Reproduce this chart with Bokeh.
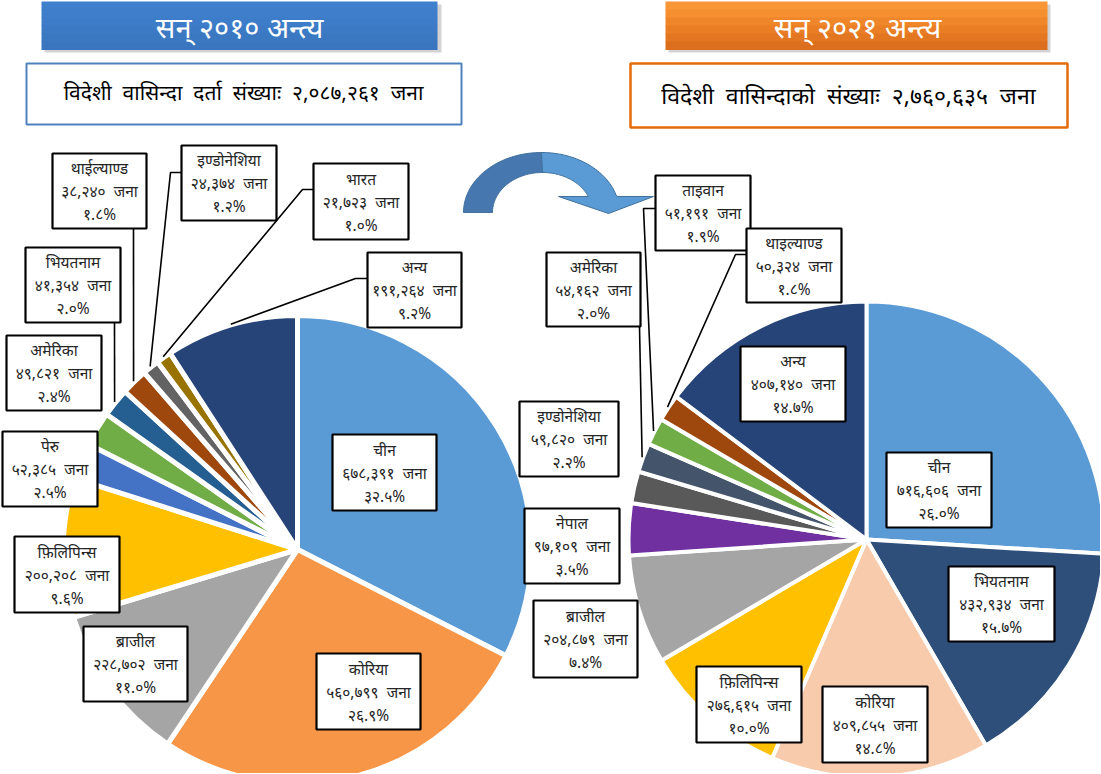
import numpy as np
from bokeh.plotting import figure
from bokeh.models import Range1d, ColumnDataSource
from bokeh.embed import file_html
from bokeh.resources import INLINE
from bokeh.core.properties import value

# ---------------- data ----------------
title_2010 = "सन् २०१० अन्त्य"
title_2021 = "सन् २०२१ अन्त्य"
subtitle_2010 = "विदेशी वासिन्दा दर्ता संख्याः २,०८७,२६१ जना"
subtitle_2021 = "विदेशी वासिन्दाको संख्याः २,७६०,६३५ जना"

countries_2010 = ["चीन", "कोरिया", "ब्राजील", "फ़िलिपिन्स", "पेरु", "अमेरिका",
                  "भियतनाम", "थाईल्याण्ड", "इण्डोनेशिया", "भारत", "अन्य"]
residents_2010 = [678391, 560799, 228702, 200208, 52385, 49821,
                  41354, 38240, 24374, 21723, 191264]
colors_2010 = ["#5B9BD5", "#F79646", "#A5A5A5", "#FFC000", "#4472C4", "#70AD47",
               "#255E91", "#9E480E", "#636363", "#997300", "#264478"]

countries_2021 = ["चीन", "भियतनाम", "कोरिया", "फ़िलिपिन्स", "ब्राजील", "नेपाल",
                  "इण्डोनेशिया", "अमेरिका", "ताइवान", "थाइल्याण्ड", "अन्य"]
residents_2021 = [716606, 432934, 409855, 276615, 204879, 97109,
                  59820, 54162, 51191, 50324, 407140]
colors_2021 = ["#5B9BD5", "#2D4F7A", "#F8CBAD", "#FFC000", "#A5A5A5", "#7030A0",
               "#595959", "#44546A", "#70AD47", "#9E480E", "#264478"]

# ---------------- layout (screen pixel coords of the page) ----------------
PIE1 = dict(cx=297, cy=549, r=234, gap=5)
PIE2 = dict(cx=866, cy=539, r=238, gap=4)

# label boxes: (left, top, right, bottom); leader: list of elbow points or None
boxes_2010 = {
    "चीन": ((332, 434, 436, 510), None),
    "कोरिया": ((316, 653, 420, 729), None),
    "ब्राजील": ((83, 626, 187, 701), None),
    "फ़िलिपिन्स": ((14, 536, 119, 612), None),
    "पेरु": ((2, 431, 97, 506), None),
    "अमेरिका": ((6, 335, 101, 410), None),
    "भियतनाम": ((25, 247, 120, 322), [(114, 322)]),
    "थाईल्याण्ड": ((52, 153, 146, 228), [(133, 228)]),
    "इण्डोनेशिया": ((181, 145, 276, 220), [(181, 172), (170, 172)]),
    "भारत": ((313, 163, 408, 239), [(313, 189), (302, 189)]),
    "अन्य": ((367, 252, 461, 327), [(367, 278), (355, 278)]),
}
boxes_2021 = {
    "चीन": ((886, 452, 991, 527), None),
    "भियतनाम": ((948, 566, 1054, 641), None),
    "कोरिया": ((822, 686, 927, 762), None),
    "फ़िलिपिन्स": ((696, 666, 801, 742), None),
    "ब्राजील": ((533, 600, 637, 677), None),
    "नेपाल": ((524, 508, 619, 583), None),
    "इण्डोनेशिया": ((519, 401, 618, 476), None),
    "अमेरिका": ((546, 252, 640, 326), [(639, 326)]),
    "ताइवान": ((655, 175, 750, 250), [(655, 208), (643, 208)]),
    "थाइल्याण्ड": ((746, 228, 841, 302), [(746, 254), (735, 254)]),
    "अन्य": ((740, 346, 845, 421), None),
}

FONT = "Noto Sans"
TXT = "#262626"
W, H = 1100, 773
SP = "\u00a0\u00a0"


def Y(ys):
    return H - ys


DEV = str.maketrans("0123456789", "०१२३४५६७८९")


def dev(s):
    return s.translate(DEV)


p = figure(width=W, height=H, x_range=Range1d(0, W), y_range=Range1d(0, H),
           output_backend="svg", toolbar_location=None, min_border=0)
p.axis.visible = False
p.grid.visible = False
p.outline_line_color = None
p.background_fill_color = "white"
p.border_fill_color = "white"

# ---------------- titles ----------------
p.quad(left=[44, 668], right=[441, 1050], top=[Y(4), Y(4)], bottom=[Y(52), Y(52)],
       fill_color="#C8C8C8", line_color=None, fill_alpha=0.8)
blue_bands = ["#3F80CC", "#3E7ECA", "#3D7CC8", "#3C7AC5", "#3B78C2", "#3A76BF"]
orange_bands = ["#F99636", "#F68F30", "#F0862A", "#EA7E25", "#E37621", "#DC6F1D"]
n = len(blue_bands)
top, bot = 1, 49
for i in range(n):
    t = top + (bot - top) * i / n
    b = top + (bot - top) * (i + 1) / n + 0.6
    p.quad(left=[41], right=[437], top=[Y(t)], bottom=[Y(b)], fill_color=blue_bands[i], line_color=None)
    p.quad(left=[665], right=[1047], top=[Y(t)], bottom=[Y(b)], fill_color=orange_bands[i], line_color=None)
p.text(x=[239, 857], y=[Y(26), Y(26)], text=[title_2010, title_2021], text_color="white",
       text_font=value(FONT), text_font_size="29px", text_align="center", text_baseline="middle")

# subtitle boxes
p.quad(left=[26], right=[461], top=[Y(63)], bottom=[Y(124)], fill_color="white",
       line_color="#4F81BD", line_width=2)
p.quad(left=[630], right=[1067], top=[Y(63)], bottom=[Y(127)], fill_color="white",
       line_color="#E46C0A", line_width=2.5)
p.text(x=[243], y=[Y(91)], text=[subtitle_2010.replace(" ", "\u00a0\u00a0")], text_color="black",
       text_font=value(FONT), text_font_size="21px", text_align="center", text_baseline="middle")
p.text(x=[848], y=[Y(94)], text=[subtitle_2021.replace(" ", "\u00a0\u00a0")], text_color="black",
       text_font=value(FONT), text_font_size="23px", text_align="center", text_baseline="middle")

# ---------------- arrow ----------------
def ell(cx, cy, rx, ry, a0, a1, k=40):
    th = np.radians(np.linspace(a0, a1, k))
    return list(cx + rx * np.cos(th)), list(cy - ry * np.sin(th))

ox, oy = ell(541, 212, 78, 60, 180, 90)
ix, iy = ell(542, 212, 50, 40, 90, 180)
p.patch(ox + ix, [Y(v) for v in oy + iy], fill_color="#4677AF", line_color="#41719C", line_width=1)
ox2, oy2 = ell(541, 212, 78, 60, 90, 15.5)
ix2, iy2 = ell(542, 212, 50, 40, 23.6, 90)
ax = ox2 + [653, 608, 558] + ix2
ay = oy2 + [196, 213, 196] + iy2
p.patch(ax, [Y(v) for v in ay], fill_color="#5B9BD5", line_color="#41719C", line_width=1)

# ---------------- pies ----------------
def draw_pie(pie, names, vals, colors, boxes):
    total = float(sum(vals))
    frac = np.array(vals) / total
    cum = np.concatenate([[0], np.cumsum(frac)])
    start = np.pi / 2 - 2 * np.pi * cum[:-1]
    end = np.pi / 2 - 2 * np.pi * cum[1:]
    src = ColumnDataSource(dict(x=[pie["cx"]] * len(vals), y=[Y(pie["cy"])] * len(vals),
                                start=list(start), end=list(end), color=colors))
    p.wedge(x="x", y="y", radius=pie["r"], start_angle="start", end_angle="end",
            direction="clock", fill_color="color", line_color="white",
            line_width=pie["gap"], source=src)
    mid = (start + end) / 2
    lx, ly = [], []
    qs = dict(l=[], r=[], t=[], b=[])
    tx, ty, tt = [], [], []
    for i, name in enumerate(names):
        (l, t, r, b), lead = boxes[name]
        qs["l"].append(l); qs["r"].append(r); qs["t"].append(Y(t)); qs["b"].append(Y(b))
        xc = (l + r) / 2
        yc = (t + b) / 2
        lines = [name, dev(f"{vals[i]:,}") + SP + "जना", dev(f"{100 * vals[i] / total:.1f}") + "%"]
        for j, s in enumerate(lines):
            tx.append(xc); ty.append(Y(yc + (j - 1) * 23)); tt.append(s)
        if lead:
            ex = pie["cx"] + (pie["r"] + 1) * np.cos(mid[i])
            ey = pie["cy"] - (pie["r"] + 1) * np.sin(mid[i])
            lx.append([pt[0] for pt in lead] + [ex])
            ly.append([Y(pt[1]) for pt in lead] + [Y(ey)])
    if lx:
        p.multi_line(xs=lx, ys=ly, line_color="black", line_width=1.6)
    p.quad(left=qs["l"], right=qs["r"], top=qs["t"], bottom=qs["b"], fill_color="white",
           line_color="black", line_width=2.2)
    p.text(x=tx, y=ty, text=tt, text_color=TXT, text_font=value(FONT), text_font_size="15.5px",
           text_align="center", text_baseline="middle")


draw_pie(PIE1, countries_2010, residents_2010, colors_2010, boxes_2010)
draw_pie(PIE2, countries_2021, residents_2021, colors_2021, boxes_2021)

open("out.html", "w").write(file_html(p, INLINE))
